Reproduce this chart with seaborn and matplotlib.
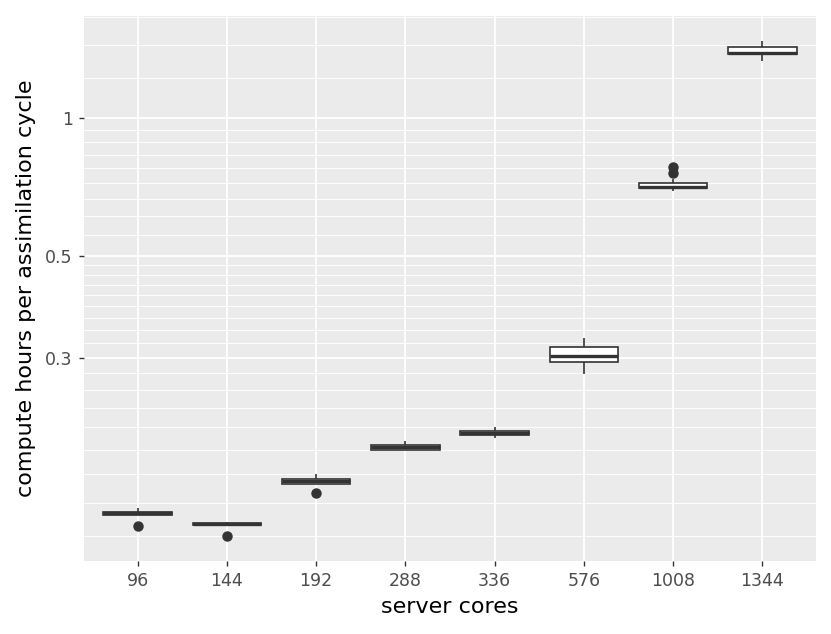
import numpy as np
import pandas as pd
import matplotlib
matplotlib.use("Agg")
import matplotlib.pyplot as plt
import seaborn as sns
from matplotlib.ticker import NullFormatter

# ---- data (compute hours per assimilation cycle) ----
cores = ["96", "144", "192", "288", "336", "576", "1008", "1344"]
hours_96 = [0.12842, 0.13605, 0.13605, 0.13653, 0.13708, 0.13756, 0.13826, 0.13930, 0.14057]
hours_144 = [0.12214, 0.12901, 0.12901, 0.12953, 0.12999, 0.13045, 0.13084, 0.13110, 0.13137]
hours_192 = [0.15184, 0.15909, 0.15909, 0.15990, 0.16094, 0.16184, 0.16274, 0.16479, 0.16704]
hours_288 = [0.18857, 0.18857, 0.18857, 0.18981, 0.19096, 0.19221, 0.19347, 0.19513, 0.19681]
hours_336 = [0.20020, 0.20180, 0.20334, 0.20447, 0.20560, 0.20674, 0.20789, 0.20956, 0.21115]
hours_576 = [0.27690, 0.28786, 0.29340, 0.29815, 0.30313, 0.30959, 0.31663, 0.32467, 0.33176]
hours_1008 = [0.69555, 0.69836, 0.70187, 0.70364, 0.70469, 0.70610, 0.70717, 0.71253,
              0.71791, 0.72333, 0.73876, 0.75986, 0.78191]
hours_1344 = [1.3315, 1.3585, 1.3798, 1.3861, 1.3917, 1.4072, 1.4300, 1.4539, 1.4775]

y_breaks = [0.3, 0.5, 1]
y_labels = ["0.3", "0.5", "1"]
x_title = "server cores"
y_title = "compute hours per assimilation cycle"

series = [hours_96, hours_144, hours_192, hours_288, hours_336, hours_576, hours_1008, hours_1344]
df = pd.DataFrame({
    "cores": np.concatenate([[c] * len(v) for c, v in zip(cores, series)]),
    "hours": np.concatenate(series),
})

# ---- style ----
plt.rcParams["font.family"] = ["DejaVu Sans"]
dark = "#333333"

fig = plt.figure(figsize=(8.31, 6.34), dpi=100)
ax = fig.add_axes([84 / 831, 1 - 561 / 634, (816 - 84) / 831, (561 - 16) / 634])
ax.set_facecolor("#EBEBEB")
ax.set_axisbelow(True)

sns.boxplot(
    data=df, x="cores", y="hours", order=cores, log_scale=True, width=0.765,
    color="white", saturation=1, linecolor=dark, linewidth=1.2, showcaps=False,
    fliersize=6.5,
    flierprops=dict(marker="o", markerfacecolor=dark, markeredgecolor=dark),
    medianprops=dict(linewidth=2.4, color=dark),
    ax=ax,
)

# limits: 5% expansion in log space
lv = np.log10(df["hours"].to_numpy())
rng = lv.max() - lv.min()
ax.set_ylim(10 ** (lv.min() - 0.05 * rng), 10 ** (lv.max() + 0.05 * rng))
ax.set_xlim(-0.6, len(cores) - 0.4)

ax.set_yticks(y_breaks, labels=y_labels)
ext = [0.1] + y_breaks + [3]
minor = []
for a, b in zip(ext[:-1], ext[1:]):
    minor += list(np.linspace(a, b, 10)[1:-1])
lo, hi = ax.get_ylim()
minor = [m for m in minor if lo <= m <= hi]
ax.set_yticks(minor, minor=True)
ax.yaxis.set_minor_formatter(NullFormatter())

ax.grid(True, which="major", color="white", linewidth=1.3)
ax.grid(True, which="minor", axis="y", color="white", linewidth=0.65)
for s in ax.spines.values():
    s.set_visible(False)

ax.tick_params(which="major", length=3.6, width=1.0, color=dark,
               labelsize=12.5, labelcolor="#4D4D4D", pad=4.5)
ax.tick_params(which="minor", length=0)

ax.set_xlabel(x_title, fontsize=16, color="black", labelpad=5)
ax.set_ylabel(y_title, fontsize=16, color="black", labelpad=7)

fig.savefig("out.png", dpi=100)
